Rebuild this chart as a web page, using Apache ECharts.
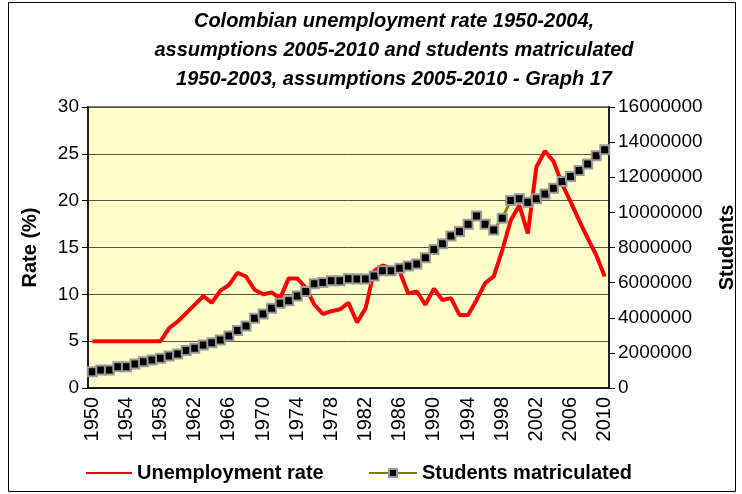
<!DOCTYPE html>
<html>
<head>
<meta charset="utf-8">
<title>Graph 17</title>
<script src="https://cdn.jsdelivr.net/npm/echarts@6/dist/echarts.min.js"></script>
<style>
  html, body { margin: 0; padding: 0; background: #fff; }
  #chart { width: 742px; height: 494px; }
</style>
</head>
<body>
<div id="chart"></div>
<script>
// years 1950..2010
var years = [];
for (var y = 1950; y <= 2010; y++) years.push(String(y));

// unemployment rate (%)
var unemployment = [
  5.0, 5.0, 5.0, 5.0, 5.0, 5.0, 5.0, 5.0, 5.0, 6.4,
  7.1, 8.0, 8.9, 9.8, 9.1, 10.4, 11.0, 12.3, 11.9, 10.5,
  10.0, 10.2, 9.6, 11.7, 11.7, 10.7, 8.9, 7.9, 8.2, 8.4,
  9.1, 7.0, 8.5, 12.5, 13.1, 12.8, 12.4, 10.1, 10.3, 8.9,
  10.6, 9.4, 9.6, 7.8, 7.8, 9.4, 11.2, 11.9, 14.7, 17.9,
  19.5, 16.5, 23.6, 25.3, 24.2, 21.8, 19.9, 17.9, 16.0, 14.2,
  11.9
];

// students matriculated
var students = [
  930000, 1030000, 1030000, 1210000, 1210000, 1370000, 1500000, 1600000, 1690000, 1820000,
  1940000, 2130000, 2260000, 2450000, 2580000, 2730000, 2960000, 3280000, 3530000, 3970000,
  4220000, 4540000, 4830000, 4970000, 5240000, 5490000, 5930000, 6010000, 6110000, 6110000,
  6220000, 6210000, 6210000, 6380000, 6680000, 6680000, 6820000, 6950000, 7060000, 7420000,
  7880000, 8210000, 8660000, 8910000, 9330000, 9790000, 9330000, 9000000, 9670000, 10670000,
  10770000, 10580000, 10770000, 11040000, 11380000, 11760000, 12040000, 12380000, 12750000, 13220000,
  13560000
];

var font = "'Liberation Sans', Arial, sans-serif";
var legendText = { fontFamily: font, fontSize: 20, fontWeight: 'bold', color: '#000' };

var myChart = echarts.init(document.getElementById('chart'));

var option = {
  animation: false,
  backgroundColor: '#ffffff',
  textStyle: { fontFamily: font, color: '#000' },
  title: {
    text: 'Colombian unemployment rate 1950-2004,\nassumptions 2005-2010 and students matriculated\n1950-2003, assumptions 2005-2010 - Graph 17',
    left: 389,
    top: 2,
    textAlign: 'center',
    textStyle: {
      fontFamily: font,
      fontSize: 20,
      fontWeight: 'bold',
      fontStyle: 'italic',
      lineHeight: 29,
      color: '#000'
    }
  },
  graphic: [{
    type: 'rect',
    shape: { x: 8.5, y: 2.5, width: 727, height: 489 },
    style: { fill: 'none', stroke: '#000', lineWidth: 1 },
    silent: true
  }],
  legend: [{
    data: [{ name: 'Unemployment rate', itemStyle: { opacity: 0 } }],
    left: 80,
    top: 458,
    itemWidth: 46,
    itemHeight: 10,
    textStyle: legendText
  }, {
    data: ['Students matriculated'],
    left: 363,
    top: 458,
    itemWidth: 48,
    itemHeight: 10,
    textStyle: legendText
  }],
  grid: {
    left: 88,
    right: 133,
    top: 107,
    bottom: 106,
    containLabel: false,
    outerBoundsMode: 'none',
    show: true,
    backgroundColor: '#ffffcc',
    borderColor: '#808080',
    borderWidth: 2
  },
  xAxis: {
    type: 'category',
    data: years,
    boundaryGap: true,
    axisLine: { lineStyle: { color: '#000', width: 1.5 } },
    axisTick: { interval: 3, length: 7, lineStyle: { color: '#000' } },
    axisLabel: {
      interval: 3,
      rotate: 90,
      margin: 9,
      fontSize: 20,
      color: '#000',
      fontFamily: font
    }
  },
  yAxis: [{
    type: 'value',
    min: 0,
    max: 30,
    interval: 5,
    name: 'Rate (%)',
    nameLocation: 'middle',
    nameRotate: 90,
    nameGap: 48,
    nameTextStyle: { fontFamily: font, fontSize: 20, fontWeight: 'bold', color: '#000' },
    axisLine: { show: true, lineStyle: { color: '#000', width: 1.5 } },
    axisTick: { show: true, length: 6, lineStyle: { color: '#000' } },
    axisLabel: { fontSize: 19, color: '#000', margin: 9, fontFamily: font },
    splitLine: { show: true, lineStyle: { color: '#555544', width: 1 } }
  }, {
    type: 'value',
    min: 0,
    max: 16000000,
    interval: 2000000,
    name: 'Students',
    nameLocation: 'middle',
    nameRotate: 90,
    nameGap: 108,
    nameTextStyle: { fontFamily: font, fontSize: 20, fontWeight: 'bold', color: '#000' },
    axisLine: { show: true, lineStyle: { color: '#000', width: 1.5 } },
    axisTick: { show: true, length: 6, lineStyle: { color: '#000' } },
    axisLabel: {
      fontSize: 19, color: '#000', margin: 9, fontFamily: font,
      formatter: function (v) { return String(v); }
    },
    splitLine: { show: false }
  }],
  series: [{
    name: 'Unemployment rate',
    type: 'line',
    data: unemployment,
    yAxisIndex: 0,
    symbol: 'none',
    itemStyle: { color: '#ff0000' },
    lineStyle: { color: '#ff0000', width: 4 },
    z: 2
  }, {
    name: 'Students matriculated',
    type: 'line',
    data: students,
    yAxisIndex: 1,
    symbol: 'rect',
    symbolSize: 9,
    showAllSymbol: true,
    itemStyle: { color: '#000000', borderColor: '#9a9a9a', borderWidth: 2 },
    lineStyle: { color: '#808000', width: 3 },
    z: 3
  }]
};

myChart.setOption(option);
</script>
</body>
</html>
